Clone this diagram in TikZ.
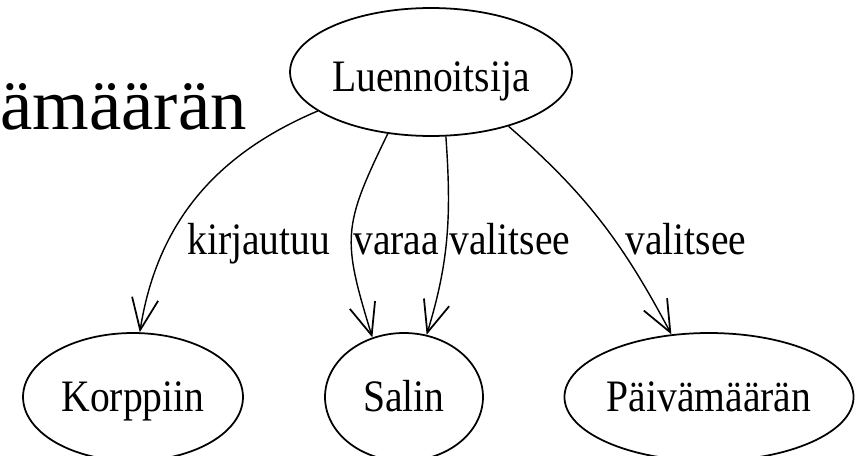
\documentclass[tikz,border=0pt]{standalone}
\usepackage{fontspec}
\setmainfont{Liberation Serif}
\newfontfamily\graphfont[FakeStretch = 0.88]{Liberation Serif}
\usetikzlibrary{positioning, shapes.geometric, arrows.meta}

\begin{document}
\begin{tikzpicture}[x = 0.02cm, y = 0.02cm,
    every node/.style = { font = \graphfont\fontsize{25.6}{30}\selectfont },
    entity/.style = { draw, shape = ellipse, line width = 1pt, inner sep = 0pt,
                      minimum height = 2.56cm, text height = 0.56cm, text depth = 0pt },
    rel/.style = { draw, line width = 0.8pt, -{Straight Barb[length = 18pt, width = 15pt, line width = 1pt]} },
    rellabel/.style = { anchor = base west, inner sep = 0pt }]
    \useasboundingbox (0,0) rectangle (859,-456);

    \node [anchor = base west, inner sep = 0pt, font = \fontsize{41.4}{48}\selectfont]
      (title) at (0,-130) {ämäärän};

    \node [entity, minimum width = 5.64cm, text height = 0.8cm] (luennoitsija) at (431,-72) {Luennoitsija};
    \node [entity, minimum width = 4.4cm] (korppiin) at (133,-397) {Korppiin};
    \node [entity, minimum width = 3.16cm] (salin) at (404,-397) {Salin};
    \node [entity, minimum width = 5.76cm] (paivamaaran) at (709,-397) {Päivämäärän};

    \draw [rel] (luennoitsija.-161) to [out = 203, in = 81] (korppiin.84);
    \draw [rel] (luennoitsija.-125) to [out = 244, in = 107, looseness = 1.3] (salin.118);
    \draw [rel] (luennoitsija.-77) to [out = 274, in = 73] (salin.70);
    \draw [rel] (luennoitsija.-35) to [out = -41, in = 118] (paivamaaran.121);

    \node [rellabel] (kirjautuu) at (187,-254) {kirjautuu};
    \node [rellabel] (varaa) at (353,-254) {varaa};
    \node [rellabel] (valitsee) at (449,-254) {valitsee};
    \node [rellabel] (valitseepvm) at (625,-254) {valitsee};
\end{tikzpicture}
\end{document}
